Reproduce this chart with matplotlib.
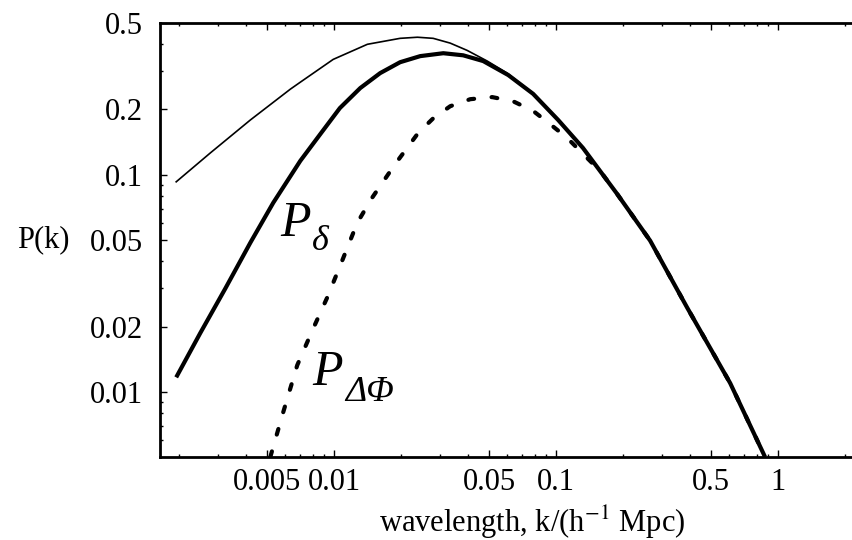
import numpy as np
import matplotlib
matplotlib.use("Agg")
import matplotlib.pyplot as plt
from matplotlib.ticker import LogLocator, NullFormatter
from matplotlib.transforms import offset_copy

plt.rcParams['font.family'] = ['Liberation Serif', 'DejaVu Serif']
plt.rcParams['mathtext.fontset'] = 'stix'

# total spectrum (thin line)
k_tot = [0.00194, 0.00276, 0.00419, 0.00634, 0.00703, 0.00989, 0.0141, 0.0198,
         0.0237, 0.0279, 0.0333, 0.0397, 0.0489, 0.0601, 0.0787, 0.102, 0.132,
         0.188, 0.265, 0.389, 0.608, 0.873]
p_tot = [0.0929, 0.126, 0.179, 0.248, 0.267, 0.340, 0.399, 0.425,
         0.430, 0.425, 0.404, 0.374, 0.334, 0.294, 0.237, 0.179, 0.133,
         0.0818, 0.0498, 0.0245, 0.0110, 0.00503]

# P_delta (thick line)
k_delta = [0.00194, 0.00249, 0.00323, 0.00419, 0.00531, 0.00703, 0.00865, 0.0106,
           0.0131, 0.0161, 0.0198, 0.0244, 0.0310, 0.0381, 0.0469, 0.0608, 0.0787,
           0.102, 0.132, 0.188, 0.265, 0.389, 0.608, 0.873]
p_delta = [0.0117, 0.0187, 0.0300, 0.0488, 0.0744, 0.116, 0.154, 0.203,
           0.251, 0.294, 0.330, 0.352, 0.363, 0.355, 0.334, 0.288, 0.236,
           0.179, 0.133, 0.0818, 0.0498, 0.0245, 0.0110, 0.00503]

# P_DeltaPhi (dashed line)
k_phi = [0.00515, 0.00589, 0.00681, 0.00796, 0.00930, 0.0109, 0.0127, 0.0148,
         0.0188, 0.0239, 0.0279, 0.0333, 0.0410, 0.0515, 0.0640, 0.0787, 0.0940,
         0.112, 0.132, 0.158, 0.188, 0.265, 0.389, 0.608, 0.873]
p_phi = [0.00503, 0.00809, 0.0133, 0.0192, 0.0273, 0.0407, 0.0602, 0.0784,
         0.112, 0.156, 0.182, 0.207, 0.223, 0.228, 0.218, 0.197, 0.171,
         0.148, 0.125, 0.104, 0.0818, 0.0498, 0.0245, 0.0110, 0.00503]

xticks = [0.005, 0.01, 0.05, 0.1, 0.5, 1]
xlabels = ['0.005', '0.01', '0.05', '0.1', '0.5', '1']
yticks = [0.01, 0.02, 0.05, 0.1, 0.2, 0.5]
ylabels = ['0.01', '0.02', '0.05', '0.1', '0.2', '0.5']

fig = plt.figure(figsize=(8.52, 5.40), dpi=100)
ax = fig.add_axes([160/852, 83/540, 744/852, 434/540])

ax.plot(k_tot, p_tot, color='black', lw=1.2, solid_joinstyle='round')
ax.plot(k_phi, p_phi, color='black', lw=3, dashes=(1.4, 4.2),
        dash_capstyle='round')
ax.plot(k_delta, p_delta, color='black', lw=3, solid_joinstyle='round',
        solid_capstyle='butt')

ax.set_xscale('log')
ax.set_yscale('log')
ax.set_xlim(0.00164, 3.69)
ax.set_ylim(0.00503, 0.5)

ax.set_xticks(xticks, xlabels)
ax.set_yticks(yticks, ylabels)
for axis in (ax.xaxis, ax.yaxis):
    axis.set_minor_locator(LogLocator(base=10, subs=np.arange(2, 10)))
    axis.set_minor_formatter(NullFormatter())

ax.tick_params(which='both', direction='in', top=True, right=False,
               labelsize=22, width=1)
ax.tick_params(which='major', length=5)
ax.tick_params(which='minor', length=2.5)
ax.tick_params(axis='y', pad=12)
ax.tick_params(axis='x', pad=8)

for side in ['left', 'bottom', 'top']:
    ax.spines[side].set_linewidth(2)
ax.spines['right'].set_visible(False)

ax.set_ylabel('P(k)', rotation=0, fontsize=22, ha='right', va='center')
ax.yaxis.set_label_coords(-0.121, 0.5)
ax.set_xlabel(r'wavelength, k/(h$^{-1}$ Mpc)', fontsize=22, va='center')
ax.xaxis.set_label_coords(0.5, -0.15)


def curve_label(k, p, sub, dx, dy):
    ax.text(k, p, 'P', fontsize=36, style='italic', va='baseline')
    tr = offset_copy(ax.transData, fig=fig, x=dx, y=dy, units='points')
    ax.text(k, p, sub, fontsize=26, style='italic', va='baseline',
            transform=tr)


curve_label(0.00571, 0.0525, 'δ', 23, -10)
curve_label(0.00796, 0.01076, 'ΔΦ', 24, -11)

fig.savefig('out.png', dpi=100)
